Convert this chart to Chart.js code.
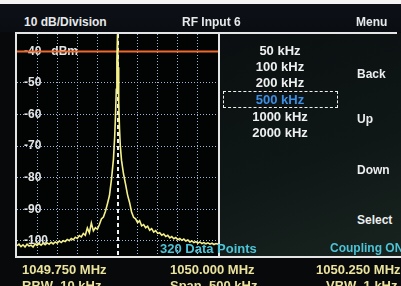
<!DOCTYPE html>
<html>
<head>
<meta charset="utf-8">
<script src="https://cdn.jsdelivr.net/npm/chart.js@4"></script>
<style>
  html, body { margin:0; padding:0; }
  body { width:401px; height:286px; overflow:hidden; position:relative; background:#07090b;
         font-family:"Liberation Sans", Arial, sans-serif; font-weight:bold; }
  .t { position:absolute; white-space:nowrap; line-height:14px; }
  #topstrip { position:absolute; left:0; top:0; width:401px; height:4px; background:#f4f4f4; }
  #header { position:absolute; left:0; top:4px; width:401px; height:28px; background:linear-gradient(#0d1016,#0a0d12); }
  #rightpanel { position:absolute; left:219px; top:33px; width:182px; height:224px;
                background:linear-gradient(160deg,#0a0e10 0%,#0f1716 55%,#18231f 100%); }
  #plotbg { position:absolute; left:16px; top:33px; width:203px; height:224px; background:#020303; }
  #chartbox { position:absolute; left:17px; top:34px; width:201px; height:222px; }
  .hline { position:absolute; height:2px; background:#e4e6e6; }
  .vline { position:absolute; width:2px; background:#e4e6e6; }
  .hdr { color:#e6e8ea; font-size:12px; }
  .span { color:#eef0f0; font-size:13px; width:120px; text-align:center; left:220px; }
  .menu { color:#eceeee; font-size:12px; left:357px; }
  .cyan { color:#4cc3d6; }
  .foot { color:#ebe39c; font-size:13px; }
  #selbox { position:absolute; left:223px; top:91px; width:113px; height:15px; border:1.5px dashed #f0f0f0; }
</style>
</head>
<body>
<div id="topstrip"></div>
<div id="header"></div>
<div id="rightpanel"></div>
<div id="plotbg"></div>
<div id="chartbox"><canvas id="c" width="201" height="222"></canvas></div>

<div class="hline" style="left:15px;top:32px;width:382px;"></div>
<div class="hline" style="left:15px;top:256px;width:386px;"></div>
<div class="vline" style="left:15px;top:32px;height:226px;"></div>
<div class="vline" style="left:218px;top:32px;height:226px;"></div>

<div class="t hdr" style="left:24px;top:15px;">10 dB/Division</div>
<div class="t hdr" style="left:182px;top:15px;">RF Input 6</div>
<div class="t hdr" style="left:356px;top:15px;">Menu</div>

<div class="t span" style="top:44px;">50 kHz</div>
<div class="t span" style="top:60px;">100 kHz</div>
<div class="t span" style="top:76px;">200 kHz</div>
<div id="selbox"></div>
<div class="t span" style="top:93px;color:#3d8fe6;">500 kHz</div>
<div class="t span" style="top:110px;">1000 kHz</div>
<div class="t span" style="top:126px;">2000 kHz</div>

<div class="t menu" style="top:67px;">Back</div>
<div class="t menu" style="top:112px;">Up</div>
<div class="t menu" style="top:163px;">Down</div>
<div class="t menu" style="top:213px;">Select</div>

<div class="t cyan" style="left:160px;top:242px;font-size:13px;">320 Data Points</div>
<div class="t cyan" style="left:330px;top:241px;font-size:12px;">Coupling ON</div>

<div class="t foot" style="left:22px;top:263px;">1049.750 MHz</div>
<div class="t foot" style="left:170px;top:263px;">1050.000 MHz</div>
<div class="t foot" style="left:316px;top:263px;">1050.250 MHz</div>
<div class="t foot" style="left:22px;top:279px;">RBW&nbsp;&nbsp;10 kHz</div>
<div class="t foot" style="left:170px;top:279px;">Span&nbsp;&nbsp;500 kHz</div>
<div class="t foot" style="left:326px;top:279px;">VBW&nbsp;&nbsp;1 kHz</div>

<script>
const freqMHz = [
  1049.750,1049.755,1049.760,1049.765,1049.770,1049.775,1049.780,1049.785,1049.790,1049.795,
  1049.800,1049.805,1049.810,1049.815,1049.820,1049.825,1049.830,1049.835,1049.840,1049.845,
  1049.850,1049.855,1049.860,1049.865,1049.870,1049.875,1049.880,1049.885,1049.890,1049.895,
  1049.900,1049.905,1049.910,1049.915,1049.920,1049.925,1049.930,1049.935,1049.940,1049.945,
  1049.950,1049.955,1049.960,1049.965,1049.970,1049.975,1049.980,1049.985,1049.990,
  1049.993,1049.995,1049.997,1049.9985,1050.000,1050.0015,1050.003,1050.005,1050.007,1050.010,
  1050.015,1050.020,1050.025,1050.030,1050.035,1050.040,1050.045,1050.050,1050.055,1050.060,
  1050.065,1050.070,1050.075,1050.080,1050.085,1050.090,1050.095,1050.100,1050.105,1050.110,
  1050.115,1050.120,1050.125,1050.130,1050.135,1050.140,1050.145,1050.150,1050.155,1050.160,
  1050.165,1050.170,1050.175,1050.180,1050.185,1050.190,1050.195,1050.200,1050.205,1050.210,
  1050.215,1050.220,1050.225,1050.230,1050.235,1050.240,1050.245,1050.250
];
const levelDbm = [
  -101.5,-101.0,-101.8,-101.2,-101.9,-101.0,-101.6,-101.3,-101.9,-100.9,
  -101.4,-100.8,-101.3,-100.7,-101.2,-100.6,-101.0,-100.4,-100.9,-100.3,
  -100.7,-100.0,-100.5,-99.9,-100.2,-99.5,-99.9,-99.2,-99.6,-98.8,
  -99.2,-98.3,-98.7,-97.6,-98.2,-95.9,-97.4,-94.3,-96.8,-95.8,
  -96.3,-94.8,-93.0,-92.4,-90.6,-88.2,-85.6,-80.5,-74.0,
  -67.0,-60.5,-52.0,-43.0,-34.6,-45.0,-56.0,-64.5,-70.0,-74.5,
  -78.8,-82.0,-85.4,-87.8,-90.8,-92.5,-93.0,-94.2,-93.6,-95.2,
  -94.8,-95.8,-95.3,-96.6,-96.1,-97.2,-96.7,-97.6,-97.4,-98.2,
  -97.8,-98.6,-98.2,-99.0,-98.6,-99.3,-98.9,-99.6,-99.2,-99.8,
  -99.4,-100.0,-99.7,-100.3,-100.0,-100.5,-100.2,-100.7,-100.3,-100.8,
  -100.5,-100.9,-100.6,-101.0,-100.7,-101.1,-100.8,-101.0
];
const refLevelDbm = -40;
const xStartMHz = 1049.750, xCenterMHz = 1050.000, xStopMHz = 1050.250;
const xGridMHz = [1049.80,1049.85,1049.90,1049.95,1050.00,1050.05,1050.10,1050.15,1050.20];
const yTicksDbm = [-40,-50,-60,-70,-80,-90,-100];
const yUnit = 'dBm';
const yMin = -104.75, yMax = -34.5;

const isCenter = c => c.tick && Math.abs(c.tick.value - xCenterMHz) < 1e-6;
const noPad = s => { s.paddingTop = 0; s.paddingBottom = 0; s.paddingLeft = 0; s.paddingRight = 0; };

new Chart(document.getElementById('c'), {
  type: 'line',
  data: {
    datasets: [
      { label: 'Trace', data: freqMHz.map((f, i) => ({ x: f, y: levelDbm[i] })),
        borderColor: '#f4f08a', borderWidth: 1.6, pointRadius: 0, tension: 0, fill: false },
      { label: 'Reference', data: [{ x: xStartMHz, y: refLevelDbm }, { x: xStopMHz, y: refLevelDbm }],
        borderColor: '#ee6a2c', borderWidth: 2, pointRadius: 0, fill: false }
    ]
  },
  options: {
    responsive: false, animation: false, devicePixelRatio: 1,
    layout: { padding: 0, autoPadding: false },
    plugins: { legend: { display: false }, tooltip: { enabled: false } },
    scales: {
      x: {
        type: 'linear', min: xStartMHz, max: xStopMHz,
        afterBuildTicks: s => { s.ticks = xGridMHz.map(v => ({ value: v })); },
        afterFit: s => { s.height = 0; noPad(s); },
        ticks: { display: false },
        grid: { drawTicks: false,
                color: c => isCenter(c) ? '#eef2f4' : '#a2b5d8',
                lineWidth: c => isCenter(c) ? 2 : 1 },
        border: { display: false, dash: c => isCenter(c) ? [4, 3] : [1, 2] }
      },
      y: {
        min: yMin, max: yMax,
        afterBuildTicks: s => { s.ticks = yTicksDbm.map(v => ({ value: v })); },
        afterFit: s => { s.width = 0; noPad(s); },
        ticks: { mirror: true, padding: 7, color: '#e2e4e6',
                 font: { family: 'Liberation Sans', size: 12, weight: 'bold' },
                 callback: v => v === yTicksDbm[0] ? v + '   ' + yUnit : String(v) },
        grid: { drawTicks: false, color: '#a2b5d8', lineWidth: 1 },
        border: { display: false, dash: [1, 2] }
      }
    }
  }
});
</script>
</body>
</html>
